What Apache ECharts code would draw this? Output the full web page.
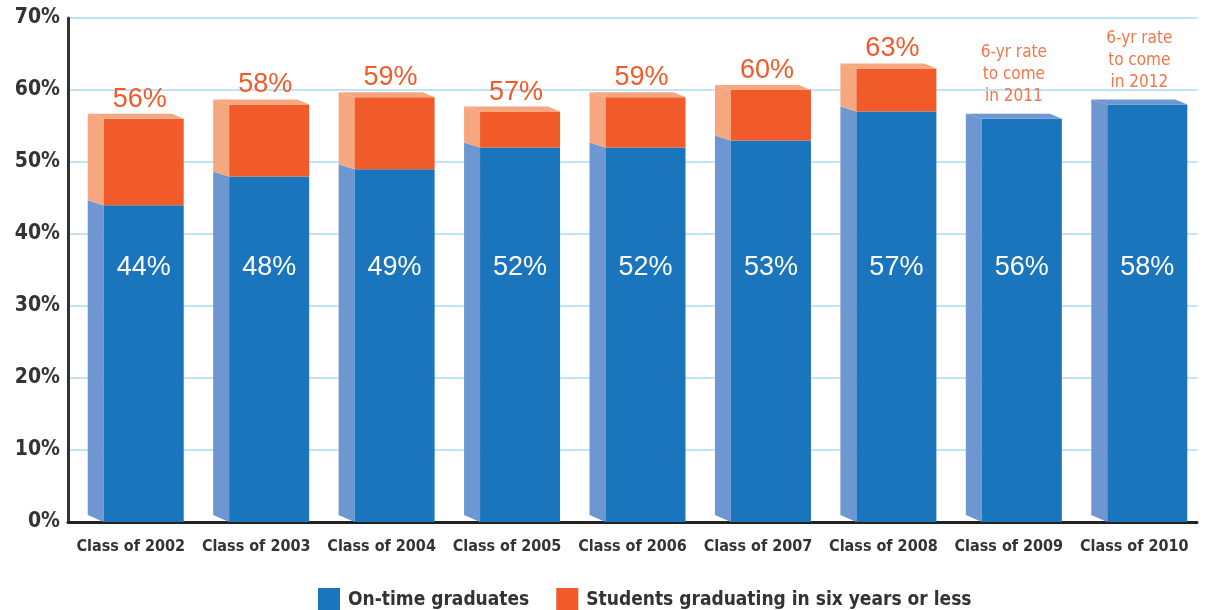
<!DOCTYPE html>
<html>
<head>
<meta charset="utf-8">
<script src="https://cdn.jsdelivr.net/npm/echarts@6/dist/echarts.min.js"></script>
<style>
html,body{margin:0;padding:0;background:#fff;}
#chart{width:1206px;height:610px;}
</style>
</head>
<body>
<div id="chart"></div>
<script>
const categories = ['Class of 2002','Class of 2003','Class of 2004','Class of 2005','Class of 2006','Class of 2007','Class of 2008','Class of 2009','Class of 2010'];
const onTime = [44, 48, 49, 52, 52, 53, 57, 56, 58];
const sixYear = [56, 58, 59, 57, 59, 60, 63, null, null];
const notes = ['', '', '', '', '', '', '', '6-yr rate\nto come\nin 2011', '6-yr rate\nto come\nin 2012'];
const yTicks = [0, 10, 20, 30, 40, 50, 60, 70];

const NARROW = '"Liberation Sans Narrow", "DejaVu Sans Condensed", "Arial Narrow", sans-serif';
const SANS = '"Liberation Sans", Arial, sans-serif';
const BLUE = '#1b75bc', BLUE_SIDE = '#6e97d1';
const ORANGE = '#f15a29', ORANGE_SIDE = '#f7a77f';

function makeRender(color, sideColor, isOrange) {
  return function (params, api) {
    const i = api.value(0);
    const lo = api.value(1), hi = api.value(2);
    const top = api.value(3);
    const c = api.coord([i, 0])[0];
    const yBot = api.coord([i, lo])[1];
    const yTop = api.coord([i, hi])[1];
    const fl = c - 27, fr = c + 53, sl = c - 43, d = 5;
    const botOff = lo === 0 ? 7 : d;
    const children = [
      { type: 'polygon', shape: { points: [[sl, yTop - d], [fl, yTop], [fl, yBot], [sl, yBot - botOff]] }, style: { fill: sideColor } },
      { type: 'rect', shape: { x: fl, y: yTop, width: fr - fl, height: yBot - yTop }, style: { fill: color } }
    ];
    if (top) {
      children.push({ type: 'polygon', shape: { points: [[sl, yTop - d], [fr - 12, yTop - d], [fr, yTop], [fl, yTop]] }, style: { fill: sideColor } });
    }
    if (isOrange) {
      children.push({ type: 'text', x: c + 9, y: yTop - d - 1, style: { text: hi + '%', fill: ORANGE, font: '500 27px ' + SANS, textAlign: 'center', textVerticalAlign: 'bottom' } });
    } else {
      const ly = api.coord([i, 35.4])[1];
      children.push({ type: 'text', x: c + 13, y: ly, style: { text: hi + '%', fill: '#ffffff', font: '500 27px ' + SANS, textAlign: 'center', textVerticalAlign: 'middle' } });
      const note = notes[i];
      if (note) {
        children.push({ type: 'text', x: c + 5, y: yTop - d - 6, style: { text: note, fill: '#f4764a', font: '17px ' + NARROW, lineHeight: 22, textAlign: 'center', textVerticalAlign: 'bottom' } });
      }
    }
    return { type: 'group', children: children };
  };
}

const blueData = categories.map((c, i) => [i, 0, onTime[i], sixYear[i] == null ? 1 : 0]);
const orangeData = [];
categories.forEach((c, i) => { if (sixYear[i] != null) orangeData.push([i, onTime[i], sixYear[i], 1]); });

const chart = echarts.init(document.getElementById('chart'));
chart.setOption({
  animation: false,
  backgroundColor: '#ffffff',
  grid: { left: 68, right: 9, top: 18, bottom: 88 },
  legend: {
    left: 313, top: 583,
    itemWidth: 22, itemHeight: 24, itemGap: 27,
    icon: 'rect',
    textStyle: { fontFamily: NARROW, fontWeight: 'bold', fontSize: 19, color: '#333333', padding: [0, 0, 0, 3] },
    data: [{ name: 'On-time graduates', itemStyle: { color: BLUE } }, { name: 'Students graduating in six years or less', itemStyle: { color: ORANGE } }]
  },
  xAxis: {
    type: 'category',
    data: categories,
    axisLine: { show: true, lineStyle: { color: '#222222', width: 3 } },
    axisTick: { show: false },
    axisLabel: { interval: 0, margin: 17, fontFamily: NARROW, fontWeight: 'bold', fontSize: 16, color: '#333333' },
    splitLine: { show: false }
  },
  yAxis: {
    type: 'value',
    min: 0, max: 70, interval: 10,
    axisLine: { show: true, lineStyle: { color: '#333333', width: 3 } },
    axisTick: { show: false },
    axisLabel: { margin: 8, fontFamily: NARROW, fontWeight: 'bold', fontSize: 21, color: '#333333',
      formatter: v => yTicks.indexOf(v) >= 0 ? v + '%' : '' },
    splitLine: { show: true, lineStyle: { color: '#bde5f6', width: 2 } }
  },
  series: [
    { name: 'On-time graduates', type: 'custom', renderItem: makeRender(BLUE, BLUE_SIDE, false), itemStyle: { color: BLUE }, data: blueData, encode: { x: 0, y: 2 }, z: 3 },
    { name: 'Students graduating in six years or less', type: 'custom', renderItem: makeRender(ORANGE, ORANGE_SIDE, true), itemStyle: { color: ORANGE }, data: orangeData, encode: { x: 0, y: 2 }, z: 3 }
  ]
});
</script>
</body>
</html>
